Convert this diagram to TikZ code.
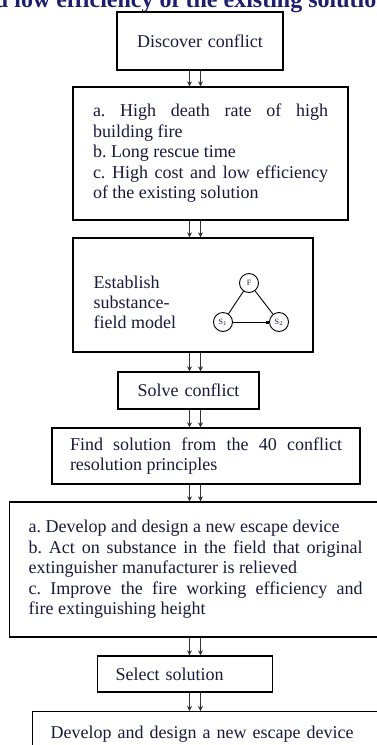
\documentclass[tikz,border=0pt]{standalone}
\usepackage{fontspec}
\setmainfont{Liberation Serif}
\usetikzlibrary{arrows.meta}
\definecolor{ink}{RGB}{25,25,60}
\definecolor{headblue}{RGB}{30,30,110}
\hyphenpenalty=10000
\exhyphenpenalty=10000
\frenchspacing

\begin{document}
\begin{tikzpicture}[x=1pt,y=-1pt,line width=1.3pt]
   \tikzset{box/.style 2 args={draw=black, rectangle, inner xsep=#1, inner ysep=0pt, text width=#2, text=ink, font=\fontsize{18}{20.5}\selectfont},
            circ/.style={draw, circle, line width=0.9pt, minimum size=19pt, inner sep=0pt, text=ink, font=\fontsize{8}{9}\selectfont},
            every edge/.append style={line width=0.9pt},
            flow/.style={line width=1pt, draw=black!80, -{Stealth[length=5pt,width=5pt]}}};
\useasboundingbox (0,0) rectangle (377,745);

\node[anchor=base west, inner sep=0pt, text=headblue, font=\bfseries\fontsize{24}{24}\selectfont] (0) at (-31,7) {and low efficiency of the existing solution};

\node[box={18pt}{130pt}, align=center, minimum height=58pt] (1) at (200,41) {Discover conflict};
\node[box={20pt}{235pt}, align=justify, minimum height=133pt] (2) at (210.5,153.5) {a. High death rate of high\linebreak building fire\\ b. Long rescue time\\ c. High cost and low efficiency\linebreak of the existing solution};

\node[draw, minimum width=240pt, minimum height=114pt] (3) at (193,295) {};
\node[anchor=west, align=left, inner sep=0pt, text=ink, font=\fontsize{18}{20}\selectfont] (12) at (93,302) {Establish\\substance-\\field model};
\node[circ] (9) at (249,283) {F};
\node[circ] (10) at (223,322) {S$_1$} edge (9);
\node[circ] (11) at (279,322) {S$_2$} edge (9) edge[{Square[length=3pt,width=3pt]}-] (10);

\node[box={18pt}{105pt}, align=center, minimum height=37pt] (4) at (188.5,390.5) {Solve conflict};
\node[box={18pt}{272pt}, align=justify, minimum height=56pt] (5) at (206,456) {Find solution from the 40 conflict\linebreak resolution principles};
\node[box={19pt}{334pt}, align=justify, minimum height=135pt, anchor=west] (6) at (9,569.5) {a. Develop and design a new escape device\\ b. Act on substance in the field that original\linebreak extinguisher manufacturer is relieved\\ c. Improve the fire working efficiency and\linebreak fire extinguishing height};
\node[box={18pt}{139pt}, align=left, minimum height=36pt, anchor=west] (7) at (97,674) {Select solution};
\node[box={18pt}{330pt}, align=left, anchor=north west, inner ysep=14pt, text depth=40pt] (8) at (32,711) {Develop and design a new escape device};

\coordinate (L) at (189.5,0);
\coordinate (R) at (200.5,0);
\foreach \a/\b in {1/2,2/3,3/4,4/5,5/6,6/7,7/8} {
   \draw[flow] (\a.south -| L) -- (\b.north -| L);
   \draw[flow] (\a.south -| R) -- (\b.north -| R);
}

\end{tikzpicture}
\end{document}
